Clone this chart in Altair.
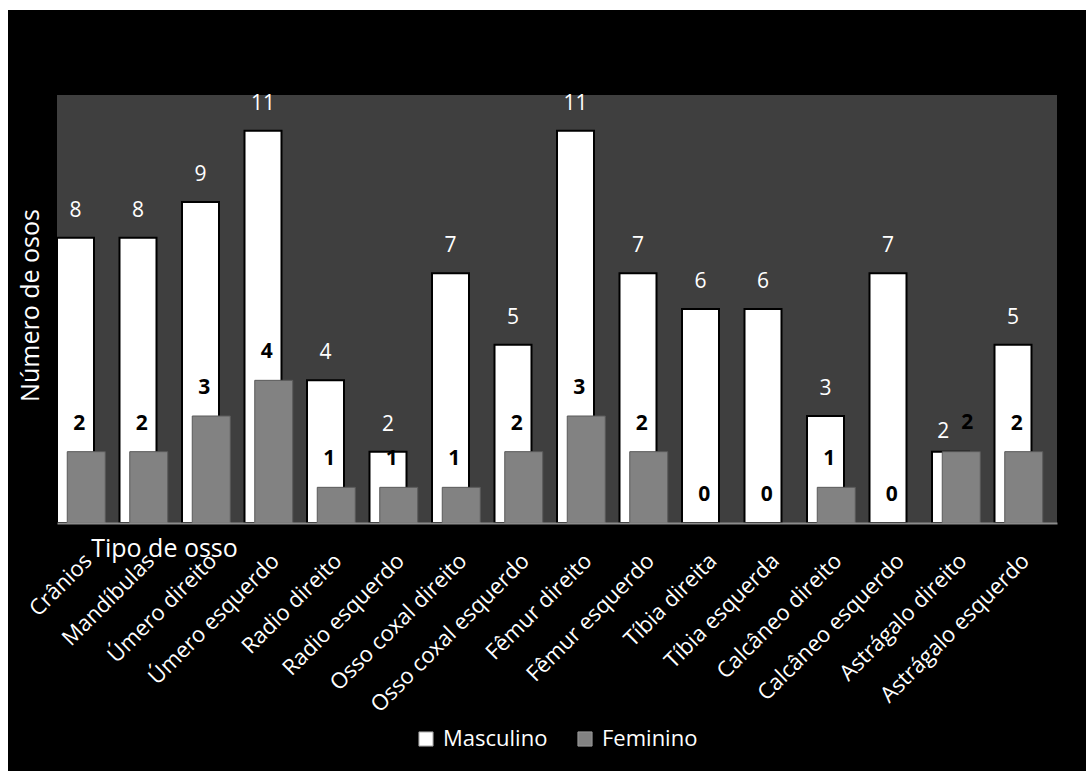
import altair as alt
import pandas as pd

categorias = ["Crânios", "Mandíbulas", "Úmero direito", "Úmero esquerdo",
              "Radio direito", "Radio esquerdo", "Osso coxal direito",
              "Osso coxal esquerdo", "Fêmur direito", "Fêmur esquerdo",
              "Tíbia direita", "Tíbia esquerda", "Calcâneo direito",
              "Calcâneo esquerdo", "Astrágalo direito", "Astrágalo esquerdo"]
masculino = [8, 8, 9, 11, 4, 2, 7, 5, 11, 7, 6, 6, 3, 7, 2, 5]
feminino = [2, 2, 3, 4, 1, 1, 1, 2, 3, 2, 0, 0, 1, 0, 2, 2]
series = ["Masculino", "Feminino"]

rows = []
for c, m, f in zip(categorias, masculino, feminino):
    rows.append({"osso": c, "sexo": "Masculino", "n": m})
    rows.append({"osso": c, "sexo": "Feminino", "n": f})
df = pd.DataFrame(rows)

W, H = 1000, 428
FONT = "Open Sans"
SPECIAL = "Astrágalo direito"

x_enc = alt.X(
    "osso:N", sort=categorias,
    scale=alt.Scale(paddingInner=0, paddingOuter=0),
    axis=alt.Axis(
        title="Tipo de osso", titleColor="white", titleFontSize=25,
        titleFont=FONT, titleFontWeight="normal",
        titleX=107, titleY=25, titleAlign="center", titleBaseline="middle",
        labelAngle=315, labelAlign="right", labelBaseline="middle",
        labelColor="white", labelFontSize=22, labelFont=FONT,
        labelPadding=34, labelLimit=500, ticks=False,
        domainColor="#8c8c8c", domainWidth=2,
        labelOverlap=False, grid=False, zindex=2,
    ),
)
y_enc = alt.Y(
    "n:Q", scale=alt.Scale(domain=[0, 12], nice=False),
    axis=alt.Axis(
        title="Número de osos", titleColor="white", titleFontSize=25,
        titleFont=FONT, titleFontWeight="normal", labels=False, ticks=False,
        domain=False, grid=False, titleAngle=270, titleX=-27, titleY=210,
        titleAlign="center", titleBaseline="middle", zindex=2,
    ),
)
color_enc = alt.Color(
    "sexo:N",
    scale=alt.Scale(domain=series, range=["#ffffff", "#828282"]),
    legend=alt.Legend(
        title=None, orient="none", legendX=358, legendY=633,
        direction="horizontal", labelColor="white", labelFontSize=22,
        labelFont=FONT, symbolType="square", symbolSize=200,
        symbolStrokeColor="#999999", symbolStrokeWidth=1,
        columnPadding=26, labelOffset=6,
    ),
)

bgdata = pd.DataFrame({"k": [0]})
black_bg = alt.Chart(bgdata).mark_rect(color="black", clip=False).encode(
    x=alt.value(-49), x2=alt.value(1029), y=alt.value(-85), y2=alt.value(676)
)
plot_bg = alt.Chart(bgdata).mark_rect(color="#3f3f3f").encode(
    x=alt.value(0), x2=alt.value(W), y=alt.value(0), y2=alt.value(H)
)

base = alt.Chart(df)
is_m = alt.datum.sexo == "Masculino"
is_f = alt.datum.sexo == "Feminino"
is_sp = alt.datum.osso == SPECIAL

white_bars = base.transform_filter(is_m).mark_bar(
    width=37, xOffset=-12.75, stroke="black", strokeWidth=2, clip=True
).encode(x=x_enc, y=y_enc, color=color_enc)
gray_bars = base.transform_filter(is_f).transform_filter(alt.datum.n > 0).mark_bar(
    width=38, xOffset=-2, stroke="#5a5a5a", strokeWidth=1
).encode(x=x_enc, y=y_enc, color=color_enc)

white_text = base.transform_filter(is_m).transform_filter(~is_sp).mark_text(
    dx=-12.75, dy=-27, color="white", fontSize=21, font=FONT,
    baseline="middle"
).encode(x=x_enc, y=y_enc, text="n:Q")
white_text_sp = base.transform_filter(is_m).transform_filter(is_sp).mark_text(
    dx=-20, dy=-20, color="white", fontSize=21, font=FONT,
    baseline="middle"
).encode(x=x_enc, y=y_enc, text="n:Q")
gray_text = base.transform_filter(is_f).transform_filter(~is_sp).mark_text(
    dx=-9, dy=-28, color="black", fontSize=21, font=FONT, fontWeight="bold",
    baseline="middle"
).encode(x=x_enc, y=y_enc, text="n:Q")
gray_text_sp = base.transform_filter(is_f).transform_filter(is_sp).mark_text(
    dx=4, dy=-29, color="black", fontSize=21, font=FONT, fontWeight="bold",
    baseline="middle"
).encode(x=x_enc, y=y_enc, text="n:Q")

chart = alt.layer(
    black_bg, plot_bg, white_bars, gray_bars,
    white_text, white_text_sp, gray_text, gray_text_sp
).properties(
    width=W, height=H,
    padding={"left": 57, "top": 95, "right": 29, "bottom": 248},
    autosize=alt.AutoSizeParams(type="none"),
    background="white",
).configure_view(stroke=None)

chart.save("out.html", embed_options={"renderer": "svg", "actions": False})
